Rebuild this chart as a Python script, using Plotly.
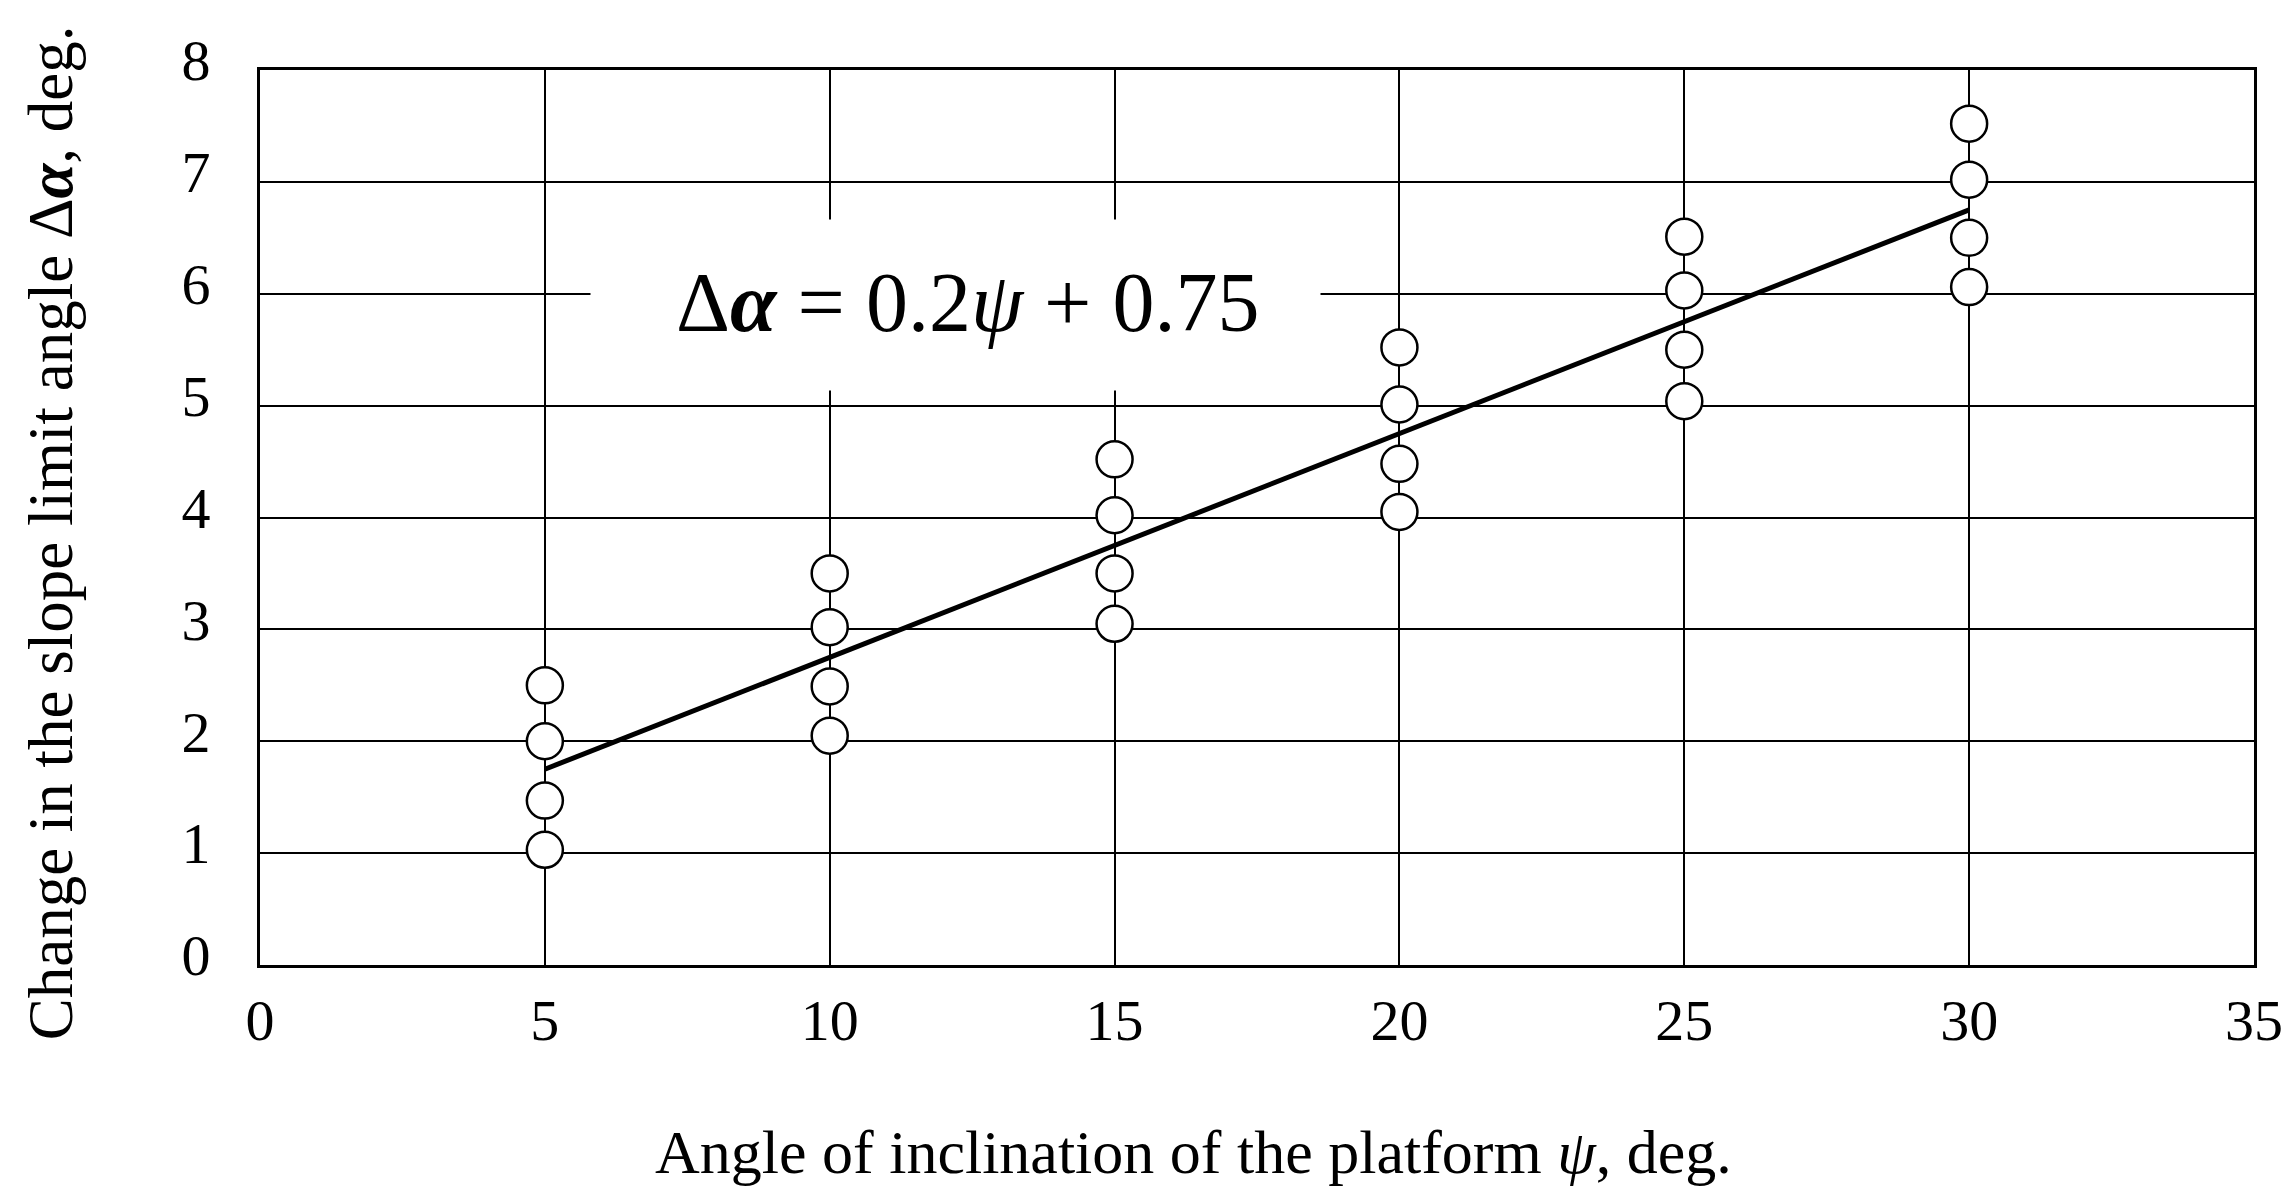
import plotly.graph_objects as go

# Data
psi_points = [5, 5, 5, 5,
              10, 10, 10, 10,
              15, 15, 15, 15,
              20, 20, 20, 20,
              25, 25, 25, 25,
              30, 30, 30, 30]
dalpha_points = [1.03, 1.47, 2.0, 2.5,
                 2.05, 2.49, 3.02, 3.5,
                 3.05, 3.5, 4.02, 4.52,
                 4.05, 4.48, 5.01, 5.52,
                 5.04, 5.5, 6.03, 6.51,
                 6.06, 6.5, 7.02, 7.52]
fit_psi = [5, 30]
fit_dalpha = [1.75, 6.75]

x_ticks = [0, 5, 10, 15, 20, 25, 30, 35]
y_ticks = [0, 1, 2, 3, 4, 5, 6, 7, 8]

x_title = "Angle of inclination of the platform <i>ψ</i>, deg."
y_title = "Change in the slope limit angle Δ<b><i>α</i></b>, deg."
equation = "Δ<b><i>α</i></b> = 0.2<i>ψ</i> + 0.75"

serif = "Liberation Serif, Times New Roman, serif"

fig = go.Figure()

fig.add_trace(go.Scatter(
    x=fit_psi, y=fit_dalpha, mode="lines",
    line=dict(color="black", width=5),
    showlegend=False, hoverinfo="skip"))

fig.add_trace(go.Scatter(
    x=psi_points, y=dalpha_points, mode="markers",
    marker=dict(symbol="circle", size=36, color="white",
                line=dict(color="black", width=2.5)),
    showlegend=False))

# white box behind the equation (covers the grid)
fig.add_annotation(
    x=12.2, y=5.90, xref="x", yref="y", text=" ",
    showarrow=False, xanchor="center", yanchor="middle",
    font=dict(family=serif, size=20, color="black"),
    bgcolor="white", width=727, height=168)

fig.add_annotation(
    x=12.42, y=5.92, xref="x", yref="y", text=equation,
    showarrow=False, xanchor="center", yanchor="middle",
    font=dict(family=serif, size=84, color="black"))

fig.add_annotation(
    x=0.468, y=-0.209, xref="paper", yref="paper", text=x_title,
    showarrow=False, xanchor="center", yanchor="middle",
    font=dict(family=serif, size=62, color="black"))

fig.add_annotation(
    x=-0.105, y=0.483, xref="paper", yref="paper", text=y_title,
    showarrow=False, xanchor="center", yanchor="middle", textangle=-90,
    font=dict(family=serif, size=63, color="black"))

fig.update_xaxes(
    range=[0, 35], tickvals=x_ticks, ticktext=[str(v) for v in x_ticks],
    showgrid=True, gridcolor="black", gridwidth=2,
    showline=True, linecolor="black", linewidth=3, mirror=True,
    zeroline=False, ticks="", ticklabelstandoff=2, automargin=False,
    tickfont=dict(family=serif, size=58, color="black"))

fig.update_yaxes(
    range=[0, 8], tickvals=y_ticks, ticktext=[str(v) for v in y_ticks],
    showgrid=True, gridcolor="black", gridwidth=2,
    showline=True, linecolor="black", linewidth=3, mirror=True,
    zeroline=False, ticks="", ticklabelstandoff=35, ticklabelshift=-10,
    automargin=False,
    tickfont=dict(family=serif, size=58, color="black"))

fig.update_layout(
    width=2289, height=1198,
    margin=dict(l=252, r=43, t=62, b=241),
    paper_bgcolor="white", plot_bgcolor="white",
    font=dict(family=serif, color="black"))

fig.write_html("out.html")
